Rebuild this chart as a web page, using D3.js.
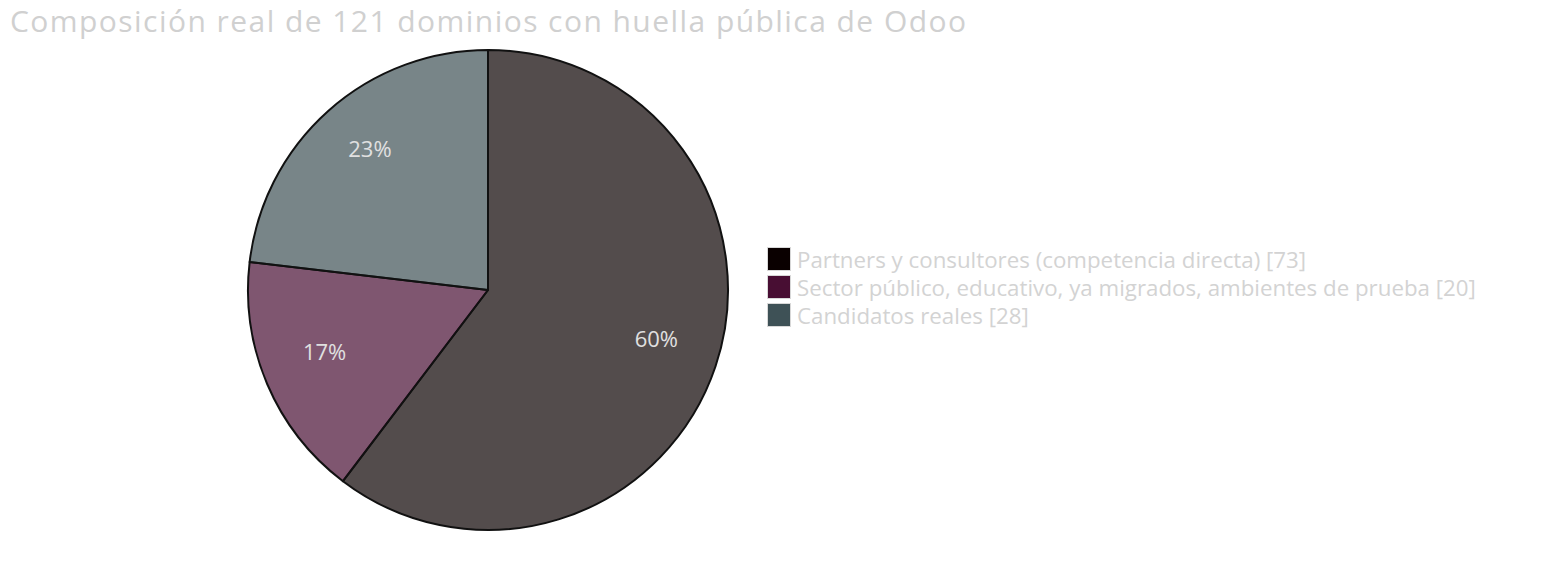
<!DOCTYPE html>
<html>
<head>
<meta charset="utf-8">
<script src="https://cdn.jsdelivr.net/npm/d3@7"></script>
<style>
  html, body { margin: 0; padding: 0; background: #fff; }
  #chart { width: 1568px; height: 588px; }
  text { font-family: "Open Sans", "Noto Sans", sans-serif; }
</style>
</head>
<body>
<div id="chart"></div>
<script>
// Datos del gráfico
const categories = [
    "Partners y consultores (competencia directa)",
    "Sector público, educativo, ya migrados, ambientes de prueba",
    "Candidatos reales"
];
const values = [73, 20, 28];
const colors = ["#0a0000", "#480e33", "#3e5156"];
const titleText = "Composición real de 121 dominios con huella pública de Odoo";

const width = 1568;
const height = 588;

const svg = d3.select("#chart")
    .append("svg")
    .attr("width", width)
    .attr("height", height);

// Título (ancho ajustado al original)
svg.append("text")
    .attr("x", 10)
    .attr("y", 32)
    .attr("font-size", 30)
    .attr("textLength", 956)
    .attr("lengthAdjust", "spacing")
    .attr("fill", "#d0d0d0")
    .text(titleText);

// Pastel
const cx = 488, cy = 290, radius = 240;
const total = d3.sum(values);

const pie = d3.pie().sort(null).value(d => d);
const arcs = pie(values);
const arc = d3.arc().innerRadius(0).outerRadius(radius);
const labelArc = d3.arc().innerRadius(radius * 0.74).outerRadius(radius * 0.74);

const g = svg.append("g").attr("transform", `translate(${cx},${cy})`);

g.selectAll("path.slice")
    .data(arcs)
    .enter()
    .append("path")
    .attr("class", "slice")
    .attr("d", arc)
    .attr("fill", (d, i) => colors[i])
    .attr("fill-opacity", 0.7)
    .attr("stroke", "#111")
    .attr("stroke-width", 2)
    .attr("stroke-linejoin", "round");

// porcentajes: línea base en el centroide
g.selectAll("text.pct")
    .data(arcs)
    .enter()
    .append("text")
    .attr("class", "pct")
    .attr("transform", d => `translate(${labelArc.centroid(d)})`)
    .attr("text-anchor", "middle")
    .attr("font-size", 22)
    .attr("fill", "#e0e0e0")
    .text(d => Math.round(d.data / total * 100) + "%");

// Leyenda
const legend = svg.append("g").attr("transform", "translate(767,247)");
const row = legend.selectAll("g.item")
    .data(categories)
    .enter()
    .append("g")
    .attr("class", "item")
    .attr("transform", (d, i) => `translate(0,${i * 28})`);

row.append("rect")
    .attr("x", 0.5)
    .attr("y", 0.5)
    .attr("width", 23)
    .attr("height", 23)
    .attr("fill", (d, i) => colors[i])
    .attr("stroke", "#d8d8d8")
    .attr("stroke-width", 1);

row.append("text")
    .attr("x", 30)
    .attr("y", 12)
    .attr("dominant-baseline", "central")
    .attr("font-size", 22.3)
    .attr("fill", "#d3d3d3")
    .text((d, i) => `${d} [${values[i]}]`);
</script>
</body>
</html>
